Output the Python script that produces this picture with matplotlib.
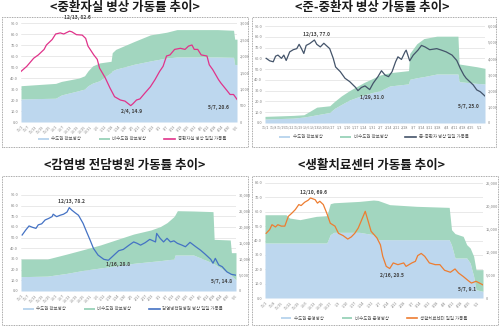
import matplotlib
matplotlib.use('Agg')
import matplotlib.pyplot as plt
from matplotlib.patches import Rectangle, Patch
from matplotlib.lines import Line2D
from matplotlib.ticker import FuncFormatter, MultipleLocator
import pandas as pd

plt.rcParams['font.family'] = ['Noto Sans CJK KR', 'DejaVu Sans']

# ---- 중환자실 ----
ICU_DATES = ['11/1', '11/6', '11/12', '11/16', '11/21', '11/23', '11/28', '12/1', '12/5', '12/8',
             '12/13', '12/15', '12/19', '12/24', '12/27', '12/29', '1/3', '1/6', '1/8', '1/13',
             '1/17', '1/21', '1/26', '1/30', '2/4', '2/6', '2/9', '2/12', '2/16', '2/21',
             '2/25', '3/1', '3/4', '3/7', '3/10', '3/14', '3/19', '3/23', '3/26', '3/29',
             '3/31', '4/3', '4/6', '4/11', '4/13', '4/16', '4/21', '4/23', '4/28', '5/1',
             '5/4', '5/7']
ICU_RATE = [46.0, 50.6, 58.0, 61.0, 66.0, 70.0, 75.0, 80.0, 81.0, 80.0,
            82.6, 82.0, 79.4, 79.0, 76.0, 69.0, 61.0, 57.0, 49.0, 40.0,
            31.0, 23.0, 20.0, 19.0, 14.9, 16.7, 20.0, 21.0, 26.0, 32.0,
            38.5, 46.0, 50.6, 60.0, 61.0, 66.0, 67.0, 66.0, 69.0, 70.0,
            66.0, 66.0, 61.0, 60.0, 52.0, 47.6, 38.5, 35.5, 29.0, 25.0,
            25.0, 20.6]
ICU_BED_DATES = ['11/1', '12/1', '12/6', '12/21', '12/26', '12/29', '1/2', '1/8', '1/18', '1/19',
                 '1/22', '2/7', '2/21', '3/7', '3/16', '4/20', '5/4', '5/5', '5/7']
ICU_SEOUL = [700, 720, 820, 950, 1000, 1100, 1180, 1250, 1500, 1550,
             1600, 1750, 1850, 1940, 1970, 1970, 1960, 1740, 1740]
ICU_NONSEOUL = [400, 450, 410, 380, 400, 450, 520, 540, 340, 550,
                600, 690, 790, 780, 830, 830, 820, 770, 770]

# ---- 준-중환자 ----
SEMI_DATES = ['11/2', '11/5', '11/8', '11/10', '11/12', '11/15', '11/17', '11/19', '11/22', '11/25',
              '11/28', '11/30', '12/2', '12/4', '12/6', '12/9', '12/13', '12/15', '12/18', '12/21',
              '12/23', '12/26', '12/29', '12/31', '1/4', '1/8', '1/12', '1/17', '1/19', '1/22',
              '1/25', '1/29', '2/1', '2/5', '2/8', '2/11', '2/14', '2/17', '2/20', '2/22',
              '2/25', '2/28', '3/1', '3/4', '3/7', '3/11', '3/14', '3/17', '3/21', '3/27',
              '3/31', '4/4', '4/9', '4/13', '4/16', '4/19', '4/21', '4/24', '4/27', '4/30',
              '5/3', '5/7']
SEMI_RATE = [60.0, 57.7, 56.8, 62.0, 63.0, 60.0, 63.0, 58.0, 66.0, 68.0,
             69.0, 73.0, 69.0, 64.5, 72.0, 73.7, 77.0, 73.0, 70.6, 74.0,
             72.0, 69.0, 60.0, 52.0, 47.6, 41.5, 38.4, 33.0, 30.0, 33.0,
             34.4, 31.0, 37.0, 43.0, 48.5, 44.5, 43.0, 47.6, 56.8, 61.4,
             59.0, 66.0, 67.6, 57.7, 63.0, 67.6, 72.0, 70.6, 68.0, 69.0,
             67.6, 66.0, 63.0, 58.0, 50.7, 44.5, 41.5, 38.4, 35.3, 30.7,
             29.0, 25.0]
SEMI_BED_DATES = ['11/1', '11/25', '12/4', '12/9', '12/15', '12/26', '12/30', '1/5', '1/12', '1/24',
                  '2/1', '2/7', '2/15', '3/3', '3/4', '3/10', '3/16', '3/27', '4/14', '4/15',
                  '4/30', '5/7']
SEMI_SEOUL = [250, 300, 370, 430, 510, 650, 900, 1150, 1430, 1740,
              1900, 2000, 2290, 2420, 2700, 2800, 2870, 3030, 3030, 2560,
              2450, 2420]
SEMI_NONSEOUL = [160, 170, 140, 290, 470, 415, 430, 530, 580, 760,
                 870, 970, 820, 820, 1600, 2100, 2350, 2340, 2340, 1090,
                 1030, 960]

# ---- 감염병 전담병원 ----
INF_DATES = ['11/2', '11/5', '11/8', '11/11', '11/14', '11/16', '11/19', '11/22', '11/25', '11/28',
             '11/29', '12/2', '12/5', '12/8', '12/11', '12/13', '12/15', '12/18', '12/21', '12/25',
             '12/28', '12/31', '1/3', '1/7', '1/12', '1/16', '1/20', '1/25', '1/29', '2/3',
             '2/7', '2/10', '2/13', '2/17', '2/21', '2/26', '2/27', '3/2', '3/5', '3/8',
             '3/11', '3/14', '3/17', '3/21', '3/24', '3/28', '4/2', '4/6', '4/10', '4/15',
             '4/17', '4/19', '4/22', '4/25', '4/29', '5/3', '5/7']
INF_RATE = [52.5, 57.0, 61.0, 59.7, 58.7, 62.0, 63.0, 66.6, 68.0, 69.7,
            72.0, 69.7, 71.0, 72.0, 74.0, 78.2, 76.0, 73.4, 71.0, 63.4,
            55.6, 48.0, 40.0, 33.7, 29.7, 28.8, 32.8, 37.8, 39.0, 43.0,
            46.0, 44.7, 43.0, 45.3, 48.4, 46.0, 54.0, 49.4, 46.0, 49.4,
            46.0, 47.0, 44.7, 43.0, 41.5, 45.6, 41.5, 38.4, 34.7, 29.7,
            26.0, 30.6, 24.4, 22.8, 18.0, 15.6, 14.8]
INF_BED_DATES = ['11/1', '11/24', '12/11', '12/26', '1/9', '1/24', '2/7', '2/22', '3/2', '3/8',
                 '3/14', '3/15', '3/17', '3/31', '4/17', '4/18', '5/2', '5/3', '5/7']
INF_SEOUL = [4480, 4650, 5520, 6500, 7200, 7900, 8650, 9200, 9480, 9750,
             10000, 11250, 11250, 11250, 8700, 8500, 5200, 4800, 3440]
INF_NONSEOUL = [5520, 5350, 6040, 6500, 7180, 8250, 9150, 9870, 10620, 11610,
                13240, 12550, 13850, 13750, 16100, 7650, 10740, 7180, 8540]

# ---- 생활치료센터 ----
LTC_DATES = ['11/2', '11/5', '11/7', '11/10', '11/12', '11/15', '11/18', '11/21', '11/24', '11/27',
             '11/30', '12/2', '12/5', '12/8', '12/10', '12/14', '12/16', '12/18', '12/21', '12/24',
             '12/27', '12/31', '1/3', '1/7', '1/11', '1/14', '1/17', '1/20', '1/23', '1/26',
             '1/29', '1/31', '2/5', '2/8', '2/10', '2/13', '2/16', '2/19', '2/23', '2/28',
             '3/2', '3/7', '3/10', '3/12', '3/15', '3/18', '3/22', '3/27', '3/31', '4/4',
             '4/9', '4/13', '4/16', '4/20', '4/24', '4/27', '5/1', '5/4', '5/7']
LTC_RATE = [45.0, 47.6, 51.0, 49.4, 51.0, 50.0, 50.0, 56.8, 59.0, 61.5,
            65.0, 64.3, 66.6, 68.0, 69.6, 68.4, 66.0, 67.3, 65.0, 59.0,
            52.0, 50.0, 45.0, 43.4, 41.0, 42.5, 45.0, 48.7, 54.5, 60.3,
            52.0, 46.4, 41.8, 37.0, 29.0, 22.0, 20.5, 24.4, 23.2, 24.4,
            22.0, 24.4, 25.5, 29.5, 31.0, 29.0, 24.4, 23.2, 23.2, 19.3,
            17.9, 20.2, 17.4, 15.0, 12.3, 10.4, 11.6, 10.4, 9.1]
LTC_BED_DATES = ['11/1', '11/19', '11/22', '12/1', '12/15', '12/24', '12/27', '12/30', '1/21', '2/2',
                 '2/6', '2/16', '3/11', '4/8', '4/10', '4/13', '4/20', '4/23', '4/26', '4/29',
                 '5/1', '5/7']
LTC_SEOUL = [11960, 11960, 11960, 11960, 11960, 11960, 13770, 14275, 14275, 13770,
             12680, 12680, 12680, 12680, 11500, 8700, 8700, 8700, 7600, 4700,
             1800, 1450]
LTC_NONSEOUL = [6140, 6140, 5430, 5070, 5790, 5940, 6730, 6425, 6725, 7530,
                8520, 7610, 7250, 7020, 3350, 5300, 4700, 2900, 3270, 4360,
                4360, 4710]

BLUE = '#BDD7EE'
GREEN = '#A2D6BF'
GRAY = '#7F7F7F'
W, H = 500, 327
START, END = pd.Timestamp(2021, 11, 1), pd.Timestamp(2022, 5, 7)

fig = plt.figure(figsize=(5, 3.27), dpi=100)


def to_dates(labels):
    out = []
    for s in labels:
        m, d = map(int, s.split('/'))
        out.append(pd.Timestamp(2021 if m >= 11 else 2022, m, d))
    return out


def fig_rect(x0, y0, x1, y1):
    # pixel box (top-left origin) -> figure fraction rect
    return [x0 / W, 1 - y1 / H, (x1 - x0) / W, (y1 - y0) / H]


def panel(box, plot_px, title, title_xy, line_dates, rate, bed_dates, seoul, nonseoul,
          color, names, left_max, right_max, right_step, notes, tick_freq, rotate, legend_xy):
    r = fig_rect(*box)
    fig.patches.append(Rectangle((r[0], r[1]), r[2], r[3], transform=fig.transFigure,
                                 fill=False, ls=(0, (1, 1)), lw=0.6, ec='#8C8C8C'))
    fig.text(title_xy[0] / W, 1 - title_xy[1] / H, title, ha='center', va='center',
             fontsize=9, fontweight='bold', color='#1A1A1A')

    ax = fig.add_axes(fig_rect(*plot_px))
    ax2 = ax.twinx()
    ax3 = ax.twinx()

    bx = to_dates(bed_dates)
    total = [a + b for a, b in zip(seoul, nonseoul)]
    ax2.fill_between(bx, 0, seoul, color=BLUE, lw=0)
    ax2.fill_between(bx, seoul, total, color=GREEN, lw=0)
    lx = to_dates(line_dates)
    ax3.plot(lx, rate, color=color, lw=0.9)

    for a in (ax, ax2, ax3):
        a.set_xlim(START, END)
        for s in a.spines.values():
            s.set_visible(False)
    ax.set_ylim(0, left_max)
    ax3.set_ylim(0, left_max)
    ax2.set_ylim(0, right_max)
    ax3.yaxis.set_visible(False)

    ax.yaxis.set_major_locator(MultipleLocator(10))
    ax.yaxis.set_major_formatter(FuncFormatter(lambda v, p: f'{v:.1f}'))
    ax.yaxis.grid(True, color='#D9D9D9', lw=0.4)
    ax.set_axisbelow(True)
    ax2.yaxis.set_major_locator(MultipleLocator(right_step))
    ax2.yaxis.set_major_formatter(FuncFormatter(lambda v, p: f'{v:,.0f}'))
    for a in (ax, ax2):
        a.tick_params(axis='y', labelsize=2.8, colors=GRAY, length=0, pad=2)

    ticks = pd.date_range(START, END, freq=tick_freq)
    ax.set_xticks(ticks)
    ax.set_xticklabels([f'{t.month}/{t.day}' for t in ticks],
                       rotation=45 if rotate else 0, ha='right' if rotate else 'center',
                       rotation_mode='anchor' if rotate else 'default')
    ax.tick_params(axis='x', labelsize=2.6, colors=GRAY, length=0, pad=2)

    for d, off in notes:
        i = line_dates.index(d)
        ax3.annotate(f'{d}, {rate[i]:.1f}', (lx[i], rate[i]), xytext=off,
                     textcoords='offset points', ha='center', va='center',
                     fontsize=3.6, fontweight='bold', color='#404040', annotation_clip=False)

    handles = [Patch(facecolor=BLUE, lw=0), Patch(facecolor=GREEN, lw=0),
               Line2D([], [], color=color, lw=1.2)]
    fig.legend(handles, names, loc='center', ncol=3, frameon=False,
               bbox_to_anchor=(legend_xy[0] / W, 1 - legend_xy[1] / H),
               fontsize=3.2, labelcolor='#595959', handlelength=2.4, handleheight=0.5,
               columnspacing=4, handletextpad=0.6)


panel((2, 17, 248, 147), (21, 23, 237, 122), '<중환자실 병상 가동률 추이>', (125, 8),
      ICU_DATES, ICU_RATE, ICU_BED_DATES, ICU_SEOUL, ICU_NONSEOUL, '#E0338A',
      ['수도권 확보병상', '비수도권 확보병상', '중환자실 병상 일일 가동률'],
      90, 3000, 500, [('12/13', (6, 10)), ('2/4', (0.7, -4.4)), ('5/7', (-13.5, -5.8))],
      '6D', True, (132, 139))

panel((252, 17, 496, 147), (265, 26, 485, 123), '<준-중환자 병상 가동률 추이>', (372, 8),
      SEMI_DATES, SEMI_RATE, SEMI_BED_DATES, SEMI_SEOUL, SEMI_NONSEOUL, '#44546A',
      ['수도권 확보병상', '비수도권 확보병상', '준-중환자 병상 일일 가동률'],
      90, 6000, 1000, [('12/13', (1.4, 4.3)), ('1/29', (1.4, -5.5)), ('5/7', (-12, -7.7))],
      '7D', False, (374, 137))

panel((2, 176, 248, 325), (21, 195, 236, 291), '<감염병 전담병원 가동률 추이>', (125, 166),
      INF_DATES, INF_RATE, INF_BED_DATES, INF_SEOUL, INF_NONSEOUL, '#4472C4',
      ['수도권 확보병상', '비수도권 확보병상', '감염병전담병원 병상 일일 가동률'],
      90, 30000, 5000, [('12/13', (1.7, 4.5)), ('1/16', (7.2, -3.2)), ('5/7', (-10.3, -4.4))],
      '6D', True, (123, 309))

panel((252, 176, 498, 325), (265, 183, 483, 298), '<생활치료센터 가동률 추이>', (372, 166),
      LTC_DATES, LTC_RATE, LTC_BED_DATES, LTC_SEOUL, LTC_NONSEOUL, '#ED7D31',
      ['수도권 운영병상', '비수도권 운영병상', '생활치료센터 일일 가동률'],
      80, 25000, 5000, [('12/10', (2, 4.3)), ('2/16', (1.4, -5.2)), ('5/7', (-11.7, -3.5))],
      '7D', True, (374, 318))

fig.savefig('out.png', dpi=100)
